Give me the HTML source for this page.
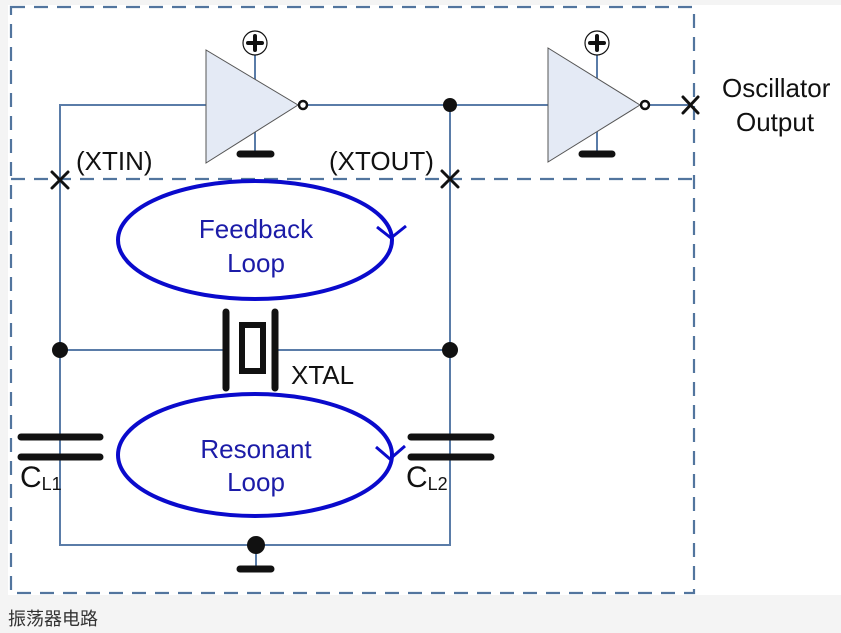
<!DOCTYPE html>
<html><head><meta charset="utf-8"><style>
html,body{margin:0;padding:0;background:#f4f4f4;width:841px;height:633px;overflow:hidden}
svg{position:absolute;left:0;top:0}
.cap{position:absolute;left:8px;top:605px;font:18px "Liberation Sans","Noto Sans CJK SC",sans-serif;color:#333}
</style></head><body>
<svg width="841" height="633" font-family="Liberation Sans, Arial, sans-serif">
<rect x="8" y="5" width="833" height="590" fill="#fff"/>
<g stroke="#52759e" stroke-width="2.2" fill="none" stroke-dasharray="14,9">
<path d="M11 7 H694 V593 H11 Z"/>
<path d="M11 179 H694"/>
</g>
<g stroke="#5a7ca8" stroke-width="2" fill="none">
<path d="M206 105 H60 V545 H450 V105 H308"/>
<path d="M450 105 H548"/>
<path d="M650 105 H690"/>
<path d="M60 350 H226 M276 350 H450"/>
<path d="M255 55 V80 M255 131 V154 M597 55 V80 M597 131 V154 M256 545 V569"/>
</g>
<polygon points="206,50 206,163 298,105" fill="#e4eaf5" stroke="#555" stroke-width="1"/>
<polygon points="548,48 548,162 640,105" fill="#e4eaf5" stroke="#555" stroke-width="1"/>
<circle cx="303" cy="105" r="4" fill="#fff" stroke="#111" stroke-width="2.5"/>
<circle cx="645" cy="105" r="4" fill="#fff" stroke="#111" stroke-width="2.5"/>
<g stroke="#111" stroke-width="1.2" fill="#fff"><circle cx="255" cy="43" r="12"/><circle cx="597" cy="43" r="12"/></g>
<g stroke="#111" stroke-width="4" stroke-linecap="round">
<path d="M248 43 H262 M255 36 V50 M590 43 H604 M597 36 V50"/>
</g>
<g stroke="#111" stroke-width="7" stroke-linecap="round">
<path d="M240 154 H271 M582 154 H612 M240 569 H271"/>
<path d="M21 437 H100 M21 457 H100 M411 437 H491 M411 457 H491"/>
<path d="M226 312 V388 M275 312 V388"/>
</g>
<rect x="242" y="325" width="21" height="46" fill="none" stroke="#111" stroke-width="6"/>
<g fill="#111"><circle cx="450" cy="105" r="7"/><circle cx="60" cy="350" r="8"/><circle cx="450" cy="350" r="8"/><circle cx="256" cy="545" r="9"/></g>
<g stroke="#111" stroke-width="3" stroke-linecap="round">
<path d="M52 172 L68 188 M68 172 L52 188"/>
<path d="M442 171 L458 187 M458 171 L442 187"/>
<path d="M683 97 L698 113 M698 97 L683 113"/>
</g>
<g fill="none" stroke="#0a0acc" stroke-width="4">
<ellipse cx="255" cy="240" rx="137" ry="59"/>
<ellipse cx="255" cy="455" rx="137" ry="61"/>
<path d="M377 227 L391 238 L406 226 M376 447 L390 459 L405 446" stroke-width="3"/>
</g>
<g font-size="26" fill="#111">
<text x="76" y="170">(XTIN)</text>
<text x="329" y="170">(XTOUT)</text>
<text x="291" y="384">XTAL</text>
<text x="722" y="97">Oscillator</text>
<text x="736" y="131">Output</text>
<text x="20" y="487" font-size="30">C<tspan font-size="18" dy="3">L1</tspan></text>
<text x="406" y="487" font-size="30">C<tspan font-size="18" dy="3">L2</tspan></text>
</g>
<g font-size="26" fill="#1c1ca8" text-anchor="middle">
<text x="256" y="238">Feedback</text>
<text x="256" y="272">Loop</text>
<text x="256" y="458">Resonant</text>
<text x="256" y="491">Loop</text>
</g>
</svg>
<div class="cap">振荡器电路</div>
</body></html>
